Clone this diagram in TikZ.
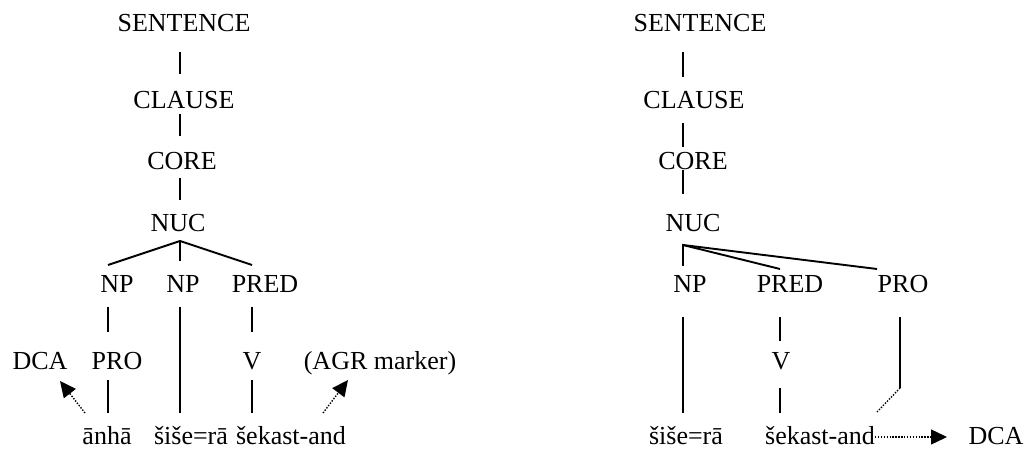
\documentclass[tikz,border=0pt]{standalone}
\usepackage{fontspec}
\setmainfont{Liberation Serif}
\usepackage{tikz}
\usetikzlibrary{arrows.meta}

\begin{document}
\begin{tikzpicture}[x=1pt, y=-1pt,
    lbl/.style={inner sep=0pt, anchor=base, font=\fontsize{26}{31}\selectfont},
    branch/.style={line width=1.9pt},
    link/.style={line width=1.4pt, dash pattern=on 1.4pt off 1.5pt},
    linkarrow/.style={link, -{Triangle[length=16pt, width=15pt]}}]
  \useasboundingbox (0,0) rectangle (1029,449);

  % left tree
  \node[lbl] (sentL)   at (184,32)  {SENTENCE};
  \node[lbl] (clauseL) at (184,109) {CLAUSE};
  \node[lbl] (coreL)   at (182,170) {CORE};
  \node[lbl] (nucL)    at (178,232) {NUC};
  \node[lbl] (npL1)    at (117,293) {NP};
  \node[lbl] (npL2)    at (183,293) {NP};
  \node[lbl] (predL)   at (265,293) {PRED};
  \node[lbl] (dcaL)    at (40,370)  {DCA};
  \node[lbl] (proL)    at (117,370) {PRO};
  \node[lbl] (vL)      at (252,370) {V};
  \node[lbl] (agrL)    at (380,370) {(AGR marker)};
  \node[lbl] (w1L)     at (107,444) {ānhā};
  \node[lbl] (w2L)     at (191,444) {šiše=rā};
  \node[lbl] (w3L)     at (291,444) {šekast-and};

  \draw[branch] ([shift={(-4,20)}]sentL.base) -- ([shift={(-4,-35)}]clauseL.base);
  \draw[branch] ([shift={(-4,5)}]clauseL.base) -- ([shift={(-2,-34)}]coreL.base);
  \draw[branch] ([shift={(-2,8)}]coreL.base) -- ([shift={(2,-32)}]nucL.base);
  \draw[branch] ([shift={(-9,-28)}]npL1.base) -- ([shift={(2,9)}]nucL.base)
                -- ([shift={(-13,-28)}]predL.base);
  \draw[branch] ([shift={(2,9)}]nucL.base) -- ([shift={(-3,-32)}]npL2.base);
  \draw[branch] ([shift={(-9,14)}]npL1.base) -- ([shift={(-9,-38)}]proL.base);
  \draw[branch] ([shift={(-3,14)}]npL2.base) -- ([shift={(-11,-31)}]w2L.base);
  \draw[branch] ([shift={(-13,14)}]predL.base) -- ([shift={(0,-38)}]vL.base);
  \draw[branch] ([shift={(-9,10)}]proL.base) -- ([shift={(1,-31)}]w1L.base);
  \draw[branch] ([shift={(0,10)}]vL.base) -- ([shift={(-39,-31)}]w3L.base);
  \draw[linkarrow] ([shift={(-22,-31)}]w1L.base) -- ([shift={(20,11)}]dcaL.base);
  \draw[linkarrow] ([shift={(32,-31)}]w3L.base) -- ([shift={(-32,10)}]agrL.base);

  % right tree
  \node[lbl] (sentR)   at (700,32)  {SENTENCE};
  \node[lbl] (clauseR) at (694,109) {CLAUSE};
  \node[lbl] (coreR)   at (693,170) {CORE};
  \node[lbl] (nucR)    at (693,232) {NUC};
  \node[lbl] (npR)     at (690,293) {NP};
  \node[lbl] (predR)   at (790,293) {PRED};
  \node[lbl] (proR)    at (903,293) {PRO};
  \node[lbl] (vR)      at (781,370) {V};
  \node[lbl] (w1R)     at (686,444) {šiše=rā};
  \node[lbl] (w2R)     at (820,444) {šekast-and};
  \node[lbl] (dcaR)    at (996,444) {DCA};

  \draw[branch] ([shift={(-17,20)}]sentR.base) -- ([shift={(-11,-32)}]clauseR.base);
  \draw[branch] ([shift={(-11,14)}]clauseR.base) -- ([shift={(-10,-23)}]coreR.base);
  \draw[branch] ([shift={(-10,0)}]coreR.base) -- ([shift={(-10,-38)}]nucR.base);
  \draw[branch] ([shift={(-7,-27)}]npR.base) -- ([shift={(-10,13)}]nucR.base)
                -- ([shift={(-10,-24)}]predR.base);
  \draw[branch] ([shift={(-10,13)}]nucR.base) -- ([shift={(-26,-24)}]proR.base);
  \draw[branch] ([shift={(-7,24)}]npR.base) -- ([shift={(-3,-31)}]w1R.base);
  \draw[branch] ([shift={(-10,24)}]predR.base) -- ([shift={(-1,-29)}]vR.base);
  \draw[branch] ([shift={(-1,18)}]vR.base) -- ([shift={(-40,-31)}]w2R.base);
  \draw[branch] ([shift={(-3,24)}]proR.base) -- ([shift={(-3,95)}]proR.base) coordinate (proEnd);
  \draw[link] (proEnd) -- ([shift={(57,-32)}]w2R.base);
  \draw[linkarrow] ([shift={(55,-7)}]w2R.base) -- ([shift={(-49,-7)}]dcaR.base);
\end{tikzpicture}
\end{document}
